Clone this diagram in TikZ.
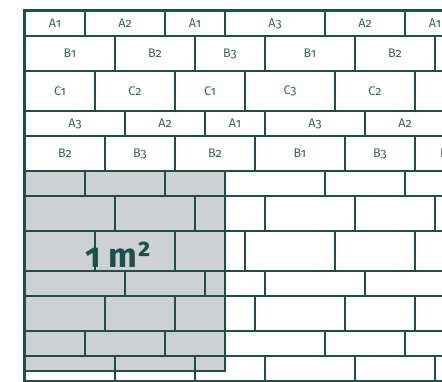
\documentclass[tikz,border=0pt]{standalone}
\usepackage{fontspec}
\setmainfont{Fira Sans}[Numbers=OldStyle]
\definecolor{wallline}{HTML}{1F4F4C}
\definecolor{walltext}{HTML}{3A6461}
\definecolor{grayfill}{HTML}{CED1D2}
\newcommand\brickrow[5]{% #1 row id, #2 top y, #3 height, #4 labels on (1/0), #5 list macro
  \foreach \w/\l [count=\i, remember=\nx as \cx (initially 25)] in #5 {
    \pgfmathsetmacro\nx{\cx+\w}
    \pgfmathtruncatemacro\vis{(\cx+\nx)/2<450 ? #4 : 0}
    \draw[joint] (\cx,#2) rectangle (\nx,#2+#3);
    \ifnum\vis=1
      \node[lab] (t-#1-\i) at ({(\cx+\nx)/2},{#2+#3/2}) {\l};
    \fi
  }
}
\begin{document}
\begin{tikzpicture}[x=1pt,y=-1pt,
  joint/.style={draw=wallline,line width=1.3pt},
  border/.style={draw=wallline,line width=3pt},
  sqborder/.style={draw=wallline,line width=2.2pt},
  lab/.style={text=walltext,font=\fontsize{12.5}{12.5}\selectfont,inner sep=0pt}]
\useasboundingbox (0,0) rectangle (442,382);
\begin{scope}
\clip (0,0) rectangle (442,382);
\fill[grayfill] (25,171) rectangle (225,371);
% row patterns
\def\rA{60/A1,80/A2,60/A1,100/A3,80/A2,60/A1}
\def\rB{90/B1,80/B2,70/B3,90/B1,80/B2,70/B3}
\def\rC{70/C1,80/C2,70/C1,90/C3,80/C2,70/C1}
\def\rD{100/A3,80/A2,60/A1,100/A3,80/A2,60/A1}
\def\rE{80/B2,70/B3,80/B2,90/B1,70/B3,64/B2}
\brickrow{1}{11}{25}{1}{\rA}
\brickrow{2}{36}{35}{1}{\rB}
\brickrow{3}{71}{40}{1}{\rC}
\brickrow{4}{111}{25}{1}{\rD}
\brickrow{5}{136}{35}{1}{\rE}
\brickrow{6}{171}{25}{0}{\rA}
\brickrow{7}{196}{35}{0}{\rB}
\brickrow{8}{231}{40}{0}{\rC}
\brickrow{9}{271}{25}{0}{\rD}
\brickrow{10}{296}{35}{0}{\rE}
\brickrow{11}{331}{25}{0}{\rA}
\brickrow{12}{356}{35}{0}{\rB}
\draw[joint] (25,381) -- (442,381);
\draw[sqborder] (25,171) -- (225,171) -- (225,371) -- (25,371);
\draw[border] (24.5,382) -- (24.5,11) -- (442,11);
\end{scope}
\node[font=\fontsize{34}{34}\selectfont\bfseries,text=wallline,anchor=base,inner sep=0pt] (area) at (118,268) {1 m²};
\end{tikzpicture}
\end{document}
